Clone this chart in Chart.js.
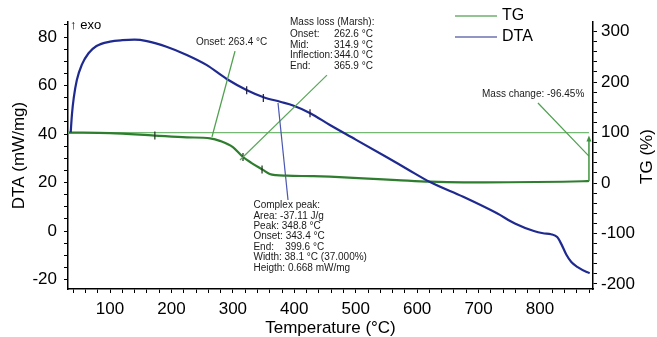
<!DOCTYPE html>
<html>
<head>
<meta charset="utf-8">
<script src="https://cdn.jsdelivr.net/npm/chart.js@4"></script>
<style>
html,body{margin:0;padding:0;background:#fff;}
#wrap{width:657px;height:337px;position:relative;}
</style>
</head>
<body>
<div id="wrap"><canvas id="c" width="657" height="337"></canvas></div>
<script>
// ---- data ----
const dtaTemp = [36,38,41,46,54,65,78,100,120,140,160,192,225,257,290,323,350,377,398,426,458,500,550,585,621,675,730,760,790,805,818,828,835,843,851,862,876,881];
const dtaValue = [40.7,48,55,62.3,68.5,73.3,76.3,78.1,78.7,78.9,78.3,76,72.6,68.5,62.7,58.1,55.2,53.3,51.8,48.6,43.7,37.7,30.5,25.4,20.2,14.1,7.3,3,0,-0.9,-1.3,-2.5,-5.5,-9.8,-12.8,-15,-16.9,-17.3];
const tgTemp = [33,100,173,225,263,280,300,316,330,349,360,370,388,431,458,512,567,621,675,750,837,870,880];
const tgValue = [100,99,94,90.5,88.5,83,71,52,40,26,18,15.5,14.5,13.5,12.5,9.3,5.9,2.6,1.4,1.5,2.5,3.5,4];
const dtaMarkTemp = [322.5,349.6,425.6];
const dtaMarkValue = [58.1,54.9,48.6];
const tgMarkTemp = [173,316.5,347.5];
const tgMarkValue = [94,51.5,27];
const xTickValues = [100,200,300,400,500,600,700,800];
const dtaTickValues = [-20,0,20,40,60,80];
const tgTickValues = [-200,-100,0,100,200,300];

// annotation texts
const onsetText = 'Onset: 263.4 °C';
const massLossTitle = 'Mass loss (Marsh):';
const massLossLabels = ['Onset:','Mid:','Inflection:','End:'];
const massLossValues = ['262.6 °C','314.9 °C','344.0 °C','365.9 °C'];
const peakLines = ['Complex peak:','Area: -37.11 J/g','Peak: 348.8 °C','Onset: 343.4 °C','End:    399.6 °C','Width: 38.1 °C (37.000%)','Heigth: 0.668 mW/mg'];
const massChangeText = 'Mass change: -96.45%';

Chart.defaults.font.family = "'Liberation Sans', Arial, sans-serif";
Chart.defaults.color = '#000';

const FONT = "'Liberation Sans', Arial, sans-serif";

const annot = {
  id: 'annot',
  beforeDatasetsDraw(chart) {
    const {ctx, scales:{x, yR}} = chart;
    ctx.save();
    ctx.strokeStyle = '#74b874';
    ctx.lineWidth = 1.3;
    ctx.beginPath();
    ctx.moveTo(x.getPixelForValue(x.min), yR.getPixelForValue(100));
    ctx.lineTo(x.getPixelForValue(879.7), yR.getPixelForValue(100));
    ctx.stroke();
    ctx.restore();
  },
  afterDatasetsDraw(chart) {
    const {ctx, scales:{x, yL}} = chart;
    const X = t => x.getPixelForValue(t);
    const Y = d => yL.getPixelForValue(d);
    ctx.save();
    const line = (t1,d1,t2,d2,color,w) => {
      ctx.strokeStyle = color; ctx.lineWidth = w;
      ctx.beginPath(); ctx.moveTo(X(t1),Y(d1)); ctx.lineTo(X(t2),Y(d2)); ctx.stroke();
    };
    // onset tangent line
    line(303.5,74.2,266,38.8,'#4f9f4f',1.3);
    // mass loss pointer
    line(453.2,64.3,311.6,29.3,'#5aa65a',1.2);
    // complex peak pointer (blue)
    line(373.5,52.8,389.8,12.8,'#4a56b0',1.2);
    // mass change pointer
    line(796.7,52.8,879.7,30.9,'#4f9f4f',1.2);
    // vertical arrow
    line(879.7,20.6,879.7,38.2,'#3f953f',1.5);
    ctx.fillStyle = '#3f953f';
    ctx.beginPath();
    ctx.moveTo(X(879.7), Y(39.4));
    ctx.lineTo(X(879.7)-2.5, Y(39.4)+6);
    ctx.lineTo(X(879.7)+2.5, Y(39.4)+6);
    ctx.closePath(); ctx.fill();

    // texts
    ctx.fillStyle = '#1a1a1a';
    ctx.textBaseline = 'middle';
    ctx.font = '10px ' + FONT;
    ctx.textAlign = 'left';
    ctx.fillText(onsetText, X(240), Y(77.9));
    ctx.fillText(massLossTitle, X(393), Y(85.9));
    const mlD = [81.2,76.7,72.6,67.8];
    massLossLabels.forEach((s,i)=>{ ctx.textAlign='left'; ctx.fillText(s, X(393), Y(mlD[i])); });
    massLossValues.forEach((s,i)=>{ ctx.textAlign='right'; ctx.fillText(s, X(528), Y(mlD[i])); });
    ctx.textAlign = 'left';
    const pkD = [10.7,5.9,1.8,-2.3,-6.7,-11.0,-15.3];
    peakLines.forEach((s,i)=> ctx.fillText(s, X(333.5), Y(pkD[i])));
    ctx.fillText(massChangeText, X(705.6), Y(56.5));
    // exo
    ctx.font = '13px ' + FONT;
    ctx.fillStyle = '#000';
    ctx.fillText('\u2191 exo', X(35), Y(84.9));

    // legend
    const lg = [['TG','#6fae6f',16],['DTA','#6b72b0',37]];
    ctx.font = '16px ' + FONT;
    lg.forEach(([label,color,yy])=>{
      ctx.strokeStyle = color; ctx.lineWidth = 1.5;
      ctx.beginPath(); ctx.moveTo(455,yy); ctx.lineTo(497,yy); ctx.stroke();
      ctx.fillStyle = '#000'; ctx.textAlign='left';
      ctx.fillText(label, 502, yy);
    });

    // right axis title (reads bottom-to-top)
    const ca = chart.chartArea;
    ctx.translate(647, (ca.top+ca.bottom)/2 + 1);
    ctx.rotate(-Math.PI/2);
    ctx.textAlign = 'center';
    ctx.font = '17px ' + FONT;
    ctx.fillText('TG (%)', 0, 0);
    ctx.restore();
  }
};

function range(a,b,s){const r=[];for(let v=a;v<=b+1e-9;v+=s)r.push(v);return r;}

const tickGrid = {
  drawOnChartArea:false, drawTicks:true, tickLength:4, tickColor:'#000', tickWidth:1
};

new Chart(document.getElementById('c'), {
  type: 'line',
  data: {
    datasets: [
      {label:'DTA', data: dtaTemp.map((t,i)=>({x:t,y:dtaValue[i]})), yAxisID:'yL',
       borderColor:'#1f2a90', borderWidth:2.2, pointRadius:0, cubicInterpolationMode:'monotone', order:1},
      {label:'TG', data: tgTemp.map((t,i)=>({x:t,y:tgValue[i]})), yAxisID:'yR',
       borderColor:'#2f7d2f', borderWidth:2.2, pointRadius:0, cubicInterpolationMode:'monotone', order:2},
      {label:'dtaMarks', data: dtaMarkTemp.map((t,i)=>({x:t,y:dtaMarkValue[i]})), yAxisID:'yL', showLine:false,
       pointStyle:'line', rotation:90, pointRadius:4, borderColor:'#1a1a40', borderWidth:1.2, order:0},
      {label:'tgMarks', data: tgMarkTemp.map((t,i)=>({x:t,y:tgMarkValue[i]})), yAxisID:'yR', showLine:false,
       pointStyle:'line', rotation:90, pointRadius:4, borderColor:'#1a301a', borderWidth:1.2, order:0}
    ]
  },
  options: {
    responsive:false, animation:false, devicePixelRatio:1,
    layout:{padding:{top:22,left:0,right:0,bottom:0}},
    plugins:{legend:{display:false}, tooltip:{enabled:false}},
    scales:{
      x:{type:'linear', position:'bottom', min:31.6, max:886.3,
         afterBuildTicks:s=>{s.ticks = range(40,880,20).map(v=>({value:v}));},
         afterFit:s=>{s.height=48;},
         ticks:{autoSkip:false, maxRotation:0, padding:6, font:{size:17}, color:'#000',
                callback:v=> xTickValues.includes(v)? String(v):''},
         grid:tickGrid,
         border:{display:true,color:'#000',width:1.5},
         title:{display:true,text:'Temperature (°C)',font:{size:17,lineHeight:1},color:'#000',padding:0}
      },
      yL:{type:'linear', position:'left', min:-23.9, max:86.2,
         afterBuildTicks:s=>{s.ticks = range(-20,85,5).map(v=>({value:v}));},
         afterFit:s=>{s.width=68;},
         ticks:{autoSkip:false, padding:7, font:{size:17}, color:'#000',
                callback:v=> dtaTickValues.includes(v)? String(v):''},
         grid:tickGrid,
         border:{display:true,color:'#000',width:1.5},
         title:{display:true,text:'DTA (mW/mg)',font:{size:17,lineHeight:1.2},color:'#000',padding:{top:9,bottom:0}}
      },
      yR:{type:'linear', position:'right', min:-210, max:319,
         afterBuildTicks:s=>{s.ticks = range(-200,300,20).map(v=>({value:v}));},
         afterFit:s=>{s.width=64;},
         ticks:{autoSkip:false, padding:4, font:{size:17}, color:'#000',
                callback:v=> tgTickValues.includes(v)? String(v):''},
         grid:tickGrid,
         border:{display:true,color:'#000',width:1.5},
         title:{display:false}
      }
    }
  },
  plugins:[annot]
});
</script>
</body>
</html>
